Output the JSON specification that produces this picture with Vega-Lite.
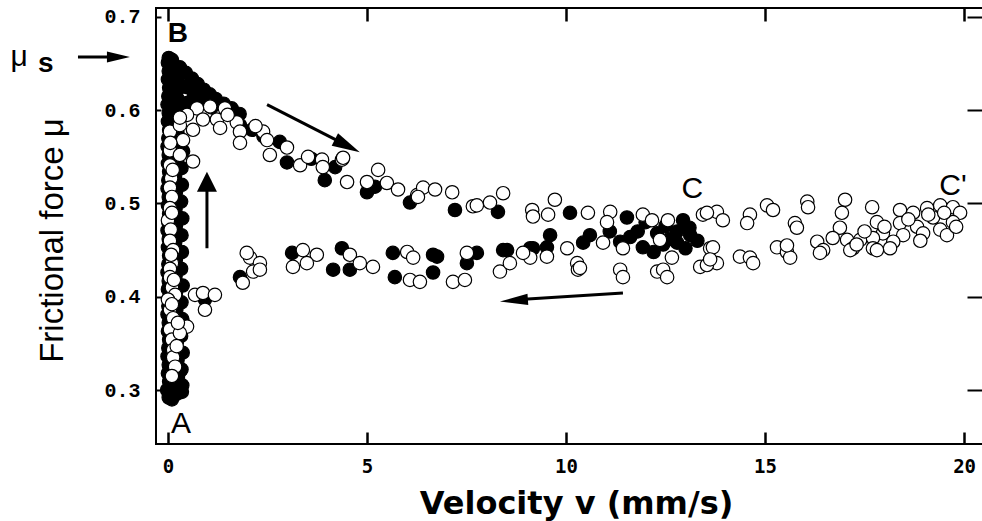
{
"$schema": "https://vega.github.io/schema/vega-lite/v6.json",
"autosize": {"type": "none"},
"width": 828, "height": 436,
"padding": {"left": 156, "top": 8, "right": 0, "bottom": 77},
"background": "white",
"config": {"view": {"stroke": "black", "strokeWidth": 2}, "font": "Liberation Sans"},
"datasets": {
"pts": [
{"x":0.02,"y":0.292,"run":"filled"},{"x":-0.02,"y":0.300,"run":"filled"},{"x":0.03,"y":0.309,"run":"filled"},{"x":0.0,"y":0.318,"run":"filled"},{"x":0.02,"y":0.327,"run":"filled"},{"x":-0.01,"y":0.336,"run":"filled"},{"x":0.01,"y":0.345,"run":"filled"},{"x":0.03,"y":0.354,"run":"filled"},{"x":0.0,"y":0.363,"run":"filled"},{"x":0.02,"y":0.372,"run":"filled"},{"x":-0.01,"y":0.381,"run":"filled"},{"x":0.01,"y":0.390,"run":"filled"},{"x":0.03,"y":0.399,"run":"filled"},{"x":0.0,"y":0.408,"run":"filled"},{"x":0.02,"y":0.417,"run":"filled"},{"x":-0.01,"y":0.426,"run":"filled"},{"x":0.01,"y":0.435,"run":"filled"},{"x":0.03,"y":0.444,"run":"filled"},{"x":0.0,"y":0.453,"run":"filled"},{"x":0.02,"y":0.462,"run":"filled"},{"x":-0.01,"y":0.471,"run":"filled"},{"x":0.01,"y":0.480,"run":"filled"},{"x":0.03,"y":0.489,"run":"filled"},{"x":0.0,"y":0.498,"run":"filled"},{"x":0.02,"y":0.507,"run":"filled"},{"x":-0.01,"y":0.516,"run":"filled"},{"x":0.01,"y":0.525,"run":"filled"},{"x":0.03,"y":0.534,"run":"filled"},{"x":0.0,"y":0.543,"run":"filled"},{"x":0.02,"y":0.552,"run":"filled"},{"x":-0.01,"y":0.561,"run":"filled"},{"x":0.01,"y":0.570,"run":"filled"},{"x":0.03,"y":0.579,"run":"filled"},{"x":0.0,"y":0.588,"run":"filled"},{"x":0.02,"y":0.597,"run":"filled"},{"x":-0.01,"y":0.606,"run":"filled"},{"x":0.01,"y":0.615,"run":"filled"},{"x":0.03,"y":0.624,"run":"filled"},{"x":0.0,"y":0.633,"run":"filled"},{"x":0.02,"y":0.642,"run":"filled"},{"x":0.0,"y":0.651,"run":"filled"},{"x":0.02,"y":0.656,"run":"filled"},
{"x":0.22,"y":0.296,"run":"filled"},{"x":0.18,"y":0.305,"run":"filled"},{"x":0.25,"y":0.314,"run":"filled"},{"x":0.2,"y":0.323,"run":"filled"},{"x":0.24,"y":0.332,"run":"filled"},{"x":0.19,"y":0.341,"run":"filled"},{"x":0.22,"y":0.350,"run":"filled"},{"x":0.2,"y":0.359,"run":"filled"},{"x":0.23,"y":0.368,"run":"filled"},{"x":0.18,"y":0.377,"run":"filled"},{"x":0.21,"y":0.386,"run":"filled"},{"x":0.24,"y":0.395,"run":"filled"},{"x":0.2,"y":0.404,"run":"filled"},{"x":0.22,"y":0.413,"run":"filled"},{"x":0.19,"y":0.422,"run":"filled"},{"x":0.23,"y":0.431,"run":"filled"},{"x":0.2,"y":0.440,"run":"filled"},{"x":0.22,"y":0.449,"run":"filled"},{"x":0.18,"y":0.458,"run":"filled"},{"x":0.21,"y":0.467,"run":"filled"},{"x":0.2,"y":0.476,"run":"filled"},{"x":0.23,"y":0.485,"run":"filled"},{"x":0.19,"y":0.494,"run":"filled"},{"x":0.21,"y":0.503,"run":"filled"},{"x":0.2,"y":0.512,"run":"filled"},{"x":0.22,"y":0.521,"run":"filled"},{"x":0.18,"y":0.530,"run":"filled"},{"x":0.21,"y":0.539,"run":"filled"},{"x":0.23,"y":0.548,"run":"filled"},{"x":0.2,"y":0.557,"run":"filled"},{"x":0.22,"y":0.566,"run":"filled"},{"x":0.24,"y":0.575,"run":"filled"},{"x":0.22,"y":0.584,"run":"filled"},{"x":0.25,"y":0.593,"run":"filled"},{"x":0.23,"y":0.602,"run":"filled"},{"x":0.26,"y":0.611,"run":"filled"},{"x":0.22,"y":0.620,"run":"filled"},{"x":0.25,"y":0.629,"run":"filled"},{"x":0.2,"y":0.638,"run":"filled"},{"x":0.15,"y":0.647,"run":"filled"},
{"x":0.36,"y":0.305,"run":"filled"},{"x":0.34,"y":0.322,"run":"filled"},{"x":0.37,"y":0.340,"run":"filled"},{"x":0.33,"y":0.358,"run":"filled"},{"x":0.36,"y":0.376,"run":"filled"},{"x":0.34,"y":0.394,"run":"filled"},{"x":0.37,"y":0.412,"run":"filled"},{"x":0.33,"y":0.430,"run":"filled"},{"x":0.35,"y":0.448,"run":"filled"},{"x":0.34,"y":0.466,"run":"filled"},{"x":0.36,"y":0.484,"run":"filled"},{"x":0.33,"y":0.502,"run":"filled"},{"x":0.35,"y":0.520,"run":"filled"},{"x":0.34,"y":0.538,"run":"filled"},{"x":0.38,"y":0.556,"run":"filled"},
{"x":0.35,"y":0.298,"run":"filled"},{"x":0.1,"y":0.29,"run":"filled"},{"x":0.3,"y":0.32,"run":"filled"},
{"x":0.1,"y":0.654,"run":"filled"},{"x":0.3,"y":0.646,"run":"filled"},{"x":0.45,"y":0.640,"run":"filled"},{"x":0.6,"y":0.634,"run":"filled"},{"x":0.75,"y":0.628,"run":"filled"},{"x":0.9,"y":0.622,"run":"filled"},{"x":1.05,"y":0.617,"run":"filled"},{"x":1.2,"y":0.612,"run":"filled"},{"x":1.4,"y":0.607,"run":"filled"},{"x":1.6,"y":0.602,"run":"filled"},{"x":1.8,"y":0.596,"run":"filled"},{"x":0.45,"y":0.625,"run":"filled"},{"x":0.65,"y":0.617,"run":"filled"},{"x":0.85,"y":0.610,"run":"filled"},{"x":1.1,"y":0.603,"run":"filled"},{"x":0.5,"y":0.608,"run":"filled"},{"x":1.81,"y":0.584,"run":"filled"},{"x":2.11,"y":0.579,"run":"filled"},{"x":2.4,"y":0.572,"run":"filled"},{"x":2.81,"y":0.566,"run":"filled"},
{"x":2.99,"y":0.544,"run":"filled"},{"x":3.6,"y":0.548,"run":"filled"},{"x":4.20,"y":0.539,"run":"filled"},{"x":3.94,"y":0.525,"run":"filled"},{"x":5.00,"y":0.512,"run":"filled"},{"x":5.20,"y":0.518,"run":"filled"},{"x":6.08,"y":0.501,"run":"filled"},{"x":7.21,"y":0.493,"run":"filled"},{"x":8.29,"y":0.491,"run":"filled"},{"x":10.10,"y":0.490,"run":"filled"},{"x":11.53,"y":0.485,"run":"filled"},{"x":12.94,"y":0.482,"run":"filled"},{"x":12.0,"y":0.480,"run":"filled"},{"x":12.5,"y":0.476,"run":"filled"},{"x":13.1,"y":0.474,"run":"filled"},{"x":11.8,"y":0.470,"run":"filled"},
{"x":11.61,"y":0.464,"run":"filled"},{"x":12.29,"y":0.468,"run":"filled"},{"x":12.79,"y":0.470,"run":"filled"},{"x":13.12,"y":0.466,"run":"filled"},{"x":9.60,"y":0.466,"run":"filled"},{"x":10.60,"y":0.466,"run":"filled"},{"x":11.93,"y":0.453,"run":"filled"},{"x":12.44,"y":0.456,"run":"filled"},{"x":12.79,"y":0.458,"run":"filled"},{"x":11.36,"y":0.459,"run":"filled"},{"x":10.43,"y":0.458,"run":"filled"},{"x":9.17,"y":0.452,"run":"filled"},{"x":8.52,"y":0.450,"run":"filled"},{"x":7.76,"y":0.447,"run":"filled"},{"x":12.6,"y":0.462,"run":"filled"},{"x":13.3,"y":0.46,"run":"filled"},{"x":11.1,"y":0.47,"run":"filled"},{"x":12.2,"y":0.448,"run":"filled"},{"x":13.0,"y":0.452,"run":"filled"},
{"x":3.12,"y":0.447,"run":"filled"},{"x":4.37,"y":0.452,"run":"filled"},{"x":4.15,"y":0.429,"run":"filled"},{"x":4.57,"y":0.429,"run":"filled"},{"x":5.65,"y":0.447,"run":"filled"},{"x":6.66,"y":0.445,"run":"filled"},{"x":7.51,"y":0.436,"run":"filled"},{"x":5.70,"y":0.421,"run":"filled"},{"x":6.66,"y":0.426,"run":"filled"},{"x":7.54,"y":0.445,"run":"filled"},{"x":6.76,"y":0.443,"run":"filled"},{"x":8.42,"y":0.450,"run":"filled"},{"x":9.10,"y":0.452,"run":"filled"},{"x":9.52,"y":0.453,"run":"filled"},{"x":1.81,"y":0.421,"run":"filled"},{"x":0.93,"y":0.397,"run":"filled"},
{"x":0.05,"y":0.577,"run":"open"},{"x":0.3,"y":0.584,"run":"open"},{"x":0.38,"y":0.568,"run":"open"},{"x":0.05,"y":0.557,"run":"open"},{"x":0.3,"y":0.552,"run":"open"},{"x":0.63,"y":0.545,"run":"open"},{"x":0.05,"y":0.541,"run":"open"},{"x":0.08,"y":0.527,"run":"open"},{"x":0.05,"y":0.517,"run":"open"},{"x":0.1,"y":0.507,"run":"open"},{"x":0.05,"y":0.495,"run":"open"},{"x":0.0,"y":0.482,"run":"open"},{"x":0.07,"y":0.472,"run":"open"},{"x":0.05,"y":0.46,"run":"open"},{"x":0.13,"y":0.450,"run":"open"},{"x":0.1,"y":0.436,"run":"open"},{"x":0.05,"y":0.43,"run":"open"},{"x":0.05,"y":0.421,"run":"open"},{"x":0.1,"y":0.41,"run":"open"},{"x":0.18,"y":0.402,"run":"open"},{"x":0.0,"y":0.397,"run":"open"},{"x":0.05,"y":0.386,"run":"open"},{"x":0.13,"y":0.377,"run":"open"},{"x":0.38,"y":0.368,"run":"open"},{"x":0.05,"y":0.365,"run":"open"},{"x":0.1,"y":0.354,"run":"open"},{"x":0.13,"y":0.343,"run":"open"},{"x":0.13,"y":0.335,"run":"open"},{"x":0.18,"y":0.325,"run":"open"},{"x":0.48,"y":0.368,"run":"open"},{"x":0.3,"y":0.361,"run":"open"},{"x":0.1,"y":0.315,"run":"open"},{"x":0.12,"y":0.536,"run":"open"},{"x":0.1,"y":0.49,"run":"open"},{"x":0.06,"y":0.565,"run":"open"},{"x":0.08,"y":0.445,"run":"open"},{"x":0.1,"y":0.392,"run":"open"},{"x":0.22,"y":0.347,"run":"open"},{"x":0.25,"y":0.372,"run":"open"},{"x":0.15,"y":0.418,"run":"open"},
{"x":0.68,"y":0.402,"run":"open"},{"x":0.88,"y":0.404,"run":"open"},{"x":1.18,"y":0.402,"run":"open"},{"x":0.93,"y":0.386,"run":"open"},
{"x":2.06,"y":0.442,"run":"open"},{"x":2.31,"y":0.436,"run":"open"},{"x":2.14,"y":0.427,"run":"open"},{"x":1.88,"y":0.415,"run":"open"},{"x":1.98,"y":0.447,"run":"open"},
{"x":0.73,"y":0.602,"run":"open"},{"x":1.06,"y":0.604,"run":"open"},{"x":1.43,"y":0.602,"run":"open"},{"x":0.48,"y":0.595,"run":"open"},{"x":0.88,"y":0.590,"run":"open"},{"x":1.23,"y":0.590,"run":"open"},{"x":1.73,"y":0.587,"run":"open"},{"x":1.31,"y":0.581,"run":"open"},{"x":0.63,"y":0.579,"run":"open"},{"x":1.81,"y":0.577,"run":"open"},{"x":2.39,"y":0.577,"run":"open"},{"x":2.49,"y":0.568,"run":"open"},{"x":1.81,"y":0.565,"run":"open"},{"x":2.56,"y":0.552,"run":"open"},{"x":2.99,"y":0.560,"run":"open"},{"x":3.32,"y":0.541,"run":"open"},{"x":3.52,"y":0.550,"run":"open"},{"x":3.87,"y":0.547,"run":"open"},{"x":4.37,"y":0.547,"run":"open"},{"x":3.89,"y":0.539,"run":"open"},{"x":4.50,"y":0.523,"run":"open"},{"x":5.28,"y":0.536,"run":"open"},{"x":5.00,"y":0.523,"run":"open"},{"x":5.50,"y":0.522,"run":"open"},{"x":5.78,"y":0.515,"run":"open"},{"x":6.26,"y":0.509,"run":"open"},{"x":6.41,"y":0.517,"run":"open"},{"x":6.71,"y":0.515,"run":"open"},{"x":7.14,"y":0.512,"run":"open"},{"x":7.66,"y":0.497,"run":"open"},{"x":4.40,"y":0.549,"run":"open"},{"x":6.28,"y":0.507,"run":"open"},{"x":7.76,"y":0.498,"run":"open"},{"x":8.09,"y":0.501,"run":"open"},{"x":8.42,"y":0.511,"run":"open"},{"x":9.72,"y":0.504,"run":"open"},{"x":9.15,"y":0.493,"run":"open"},{"x":9.55,"y":0.488,"run":"open"},{"x":9.17,"y":0.486,"run":"open"},{"x":10.55,"y":0.490,"run":"open"},{"x":11.11,"y":0.491,"run":"open"},{"x":11.03,"y":0.480,"run":"open"},{"x":11.93,"y":0.488,"run":"open"},{"x":12.16,"y":0.482,"run":"open"},{"x":12.56,"y":0.482,"run":"open"},{"x":13.44,"y":0.488,"run":"open"},{"x":13.79,"y":0.491,"run":"open"},{"x":0.3,"y":0.592,"run":"open"},{"x":1.5,"y":0.595,"run":"open"},{"x":2.2,"y":0.583,"run":"open"},
{"x":3.39,"y":0.450,"run":"open"},{"x":3.74,"y":0.445,"run":"open"},{"x":3.14,"y":0.432,"run":"open"},{"x":3.49,"y":0.436,"run":"open"},{"x":4.57,"y":0.445,"run":"open"},{"x":4.82,"y":0.436,"run":"open"},{"x":5.15,"y":0.432,"run":"open"},{"x":6.01,"y":0.448,"run":"open"},{"x":6.16,"y":0.442,"run":"open"},{"x":6.08,"y":0.418,"run":"open"},{"x":6.33,"y":0.416,"run":"open"},{"x":7.16,"y":0.416,"run":"open"},{"x":7.46,"y":0.418,"run":"open"},{"x":7.51,"y":0.447,"run":"open"},{"x":2.31,"y":0.429,"run":"open"},{"x":8.34,"y":0.427,"run":"open"},{"x":8.59,"y":0.436,"run":"open"},{"x":9.10,"y":0.442,"run":"open"},{"x":9.52,"y":0.443,"run":"open"},{"x":10.28,"y":0.436,"run":"open"},{"x":10.30,"y":0.429,"run":"open"},{"x":11.36,"y":0.429,"run":"open"},{"x":11.43,"y":0.421,"run":"open"},{"x":12.29,"y":0.427,"run":"open"},{"x":10.93,"y":0.458,"run":"open"},{"x":11.43,"y":0.452,"run":"open"},{"x":12.36,"y":0.461,"run":"open"},{"x":10.03,"y":0.452,"run":"open"},{"x":8.92,"y":0.447,"run":"open"},{"x":10.35,"y":0.431,"run":"open"},{"x":12.44,"y":0.429,"run":"open"},{"x":12.54,"y":0.421,"run":"open"},{"x":12.66,"y":0.442,"run":"open"},{"x":13.62,"y":0.452,"run":"open"},{"x":13.37,"y":0.432,"run":"open"},{"x":13.79,"y":0.436,"run":"open"},
{"x":13.54,"y":0.490,"run":"open"},{"x":13.94,"y":0.482,"run":"open"},{"x":14.62,"y":0.488,"run":"open"},{"x":15.05,"y":0.498,"run":"open"},{"x":15.20,"y":0.493,"run":"open"},{"x":14.55,"y":0.479,"run":"open"},{"x":16.06,"y":0.502,"run":"open"},{"x":16.08,"y":0.496,"run":"open"},{"x":17.01,"y":0.504,"run":"open"},{"x":16.93,"y":0.490,"run":"open"},{"x":17.69,"y":0.496,"run":"open"},{"x":15.75,"y":0.479,"run":"open"},{"x":15.80,"y":0.474,"run":"open"},{"x":16.88,"y":0.474,"run":"open"},{"x":17.81,"y":0.480,"run":"open"},{"x":18.39,"y":0.493,"run":"open"},{"x":18.72,"y":0.490,"run":"open"},{"x":19.07,"y":0.495,"run":"open"},{"x":19.40,"y":0.498,"run":"open"},{"x":19.72,"y":0.496,"run":"open"},{"x":19.90,"y":0.490,"run":"open"},{"x":19.22,"y":0.485,"run":"open"},{"x":19.72,"y":0.480,"run":"open"},{"x":18.39,"y":0.479,"run":"open"},{"x":18.82,"y":0.475,"run":"open"},{"x":19.40,"y":0.472,"run":"open"},{"x":17.96,"y":0.468,"run":"open"},{"x":18.47,"y":0.466,"run":"open"},{"x":18.97,"y":0.468,"run":"open"},{"x":19.57,"y":0.466,"run":"open"},{"x":17.06,"y":0.461,"run":"open"},{"x":17.39,"y":0.461,"run":"open"},{"x":17.71,"y":0.463,"run":"open"},{"x":18.22,"y":0.459,"run":"open"},{"x":17.21,"y":0.452,"run":"open"},{"x":17.71,"y":0.452,"run":"open"},{"x":18.14,"y":0.452,"run":"open"},{"x":16.31,"y":0.459,"run":"open"},{"x":16.46,"y":0.450,"run":"open"},{"x":16.38,"y":0.447,"run":"open"},{"x":15.30,"y":0.453,"run":"open"},{"x":15.55,"y":0.448,"run":"open"},{"x":15.63,"y":0.442,"run":"open"},{"x":13.69,"y":0.453,"run":"open"},{"x":13.54,"y":0.434,"run":"open"},{"x":14.37,"y":0.443,"run":"open"},{"x":14.62,"y":0.442,"run":"open"},{"x":14.70,"y":0.436,"run":"open"},{"x":13.62,"y":0.440,"run":"open"},{"x":17.14,"y":0.450,"run":"open"},{"x":17.81,"y":0.450,"run":"open"},{"x":19.1,"y":0.488,"run":"open"},{"x":18.6,"y":0.483,"run":"open"},{"x":19.5,"y":0.49,"run":"open"},{"x":19.8,"y":0.475,"run":"open"},{"x":18.9,"y":0.46,"run":"open"},{"x":18.0,"y":0.475,"run":"open"},{"x":17.5,"y":0.47,"run":"open"},{"x":16.7,"y":0.463,"run":"open"},{"x":17.3,"y":0.456,"run":"open"},{"x":15.55,"y":0.455,"run":"open"}
],
"shafts": [
{"x":-2.26,"y":0.657,"x2":-1.46,"y2":0.657},
{"x":0.98,"y":0.452,"x2":0.98,"y2":0.52},
{"x":2.49,"y":0.606,"x2":4.32,"y2":0.566},
{"x":11.43,"y":0.404,"x2":8.84,"y2":0.397}
],
"labelsNormal": [
{"x":0.33,"y":0.264,"label":"A"},
{"x":13.17,"y":0.516,"label":"C"},
{"x":19.72,"y":0.519,"label":"C'"}
],
"labelsBold": [
{"x":0.25,"y":0.682,"label":"B"},
{"x":-3.07,"y":0.650,"label":"s"}
],
"labelsMu": [
{"x":-3.74,"y":0.657,"label":"μ"}
]
},
"layer": [
{
"data": {"name": "pts"},
"mark": {"type": "point", "shape": "circle", "size": 180, "filled": true, "stroke": "black", "strokeWidth": 1.2, "opacity": 1},
"encoding": {
"x": {"field": "x", "type": "quantitative", "scale": {"domain": [-0.3, 20.5], "nice": false, "zero": false},
"axis": {"orient": "bottom", "values": [0, 5, 10, 15, 20], "format": "d", "domain": false, "grid": false, "tickSize": -12, "tickWidth": 2.5, "tickColor": "black", "labelFont": "DejaVu Sans Mono", "labelFontWeight": "bold", "labelFontSize": 19, "labelColor": "black", "labelPadding": 25, "labelFlush": false, "title": "Velocity v (mm/s)", "titleFont": "DejaVu Sans", "titleFontSize": 32, "titleFontWeight": "bold", "titleColor": "black", "titleX": 420, "titleY": 69, "titleBaseline": "alphabetic", "titleAlign": "center"}},
"y": {"field": "y", "type": "quantitative", "scale": {"domain": [0.2421, 0.7096], "nice": false, "zero": false},
"axis": {"orient": "left", "values": [0.3, 0.4, 0.5, 0.6, 0.7], "format": ".1f", "domain": false, "grid": false, "tickSize": -5, "tickWidth": 2, "tickColor": "black", "labelFont": "Liberation Mono", "labelFontWeight": "bold", "labelFontSize": 20, "labelColor": "black", "labelPadding": 21, "labelFlush": false, "title": "Frictional force μ", "titleFont": "Liberation Sans", "titleFontSize": 33, "titleFontWeight": "normal", "titleColor": "black", "titleX": -94, "titleY": 232, "titleAngle": 270, "titleBaseline": "alphabetic", "titleAlign": "center"}},
"fill": {"field": "run", "type": "nominal", "scale": {"domain": ["filled", "open"], "range": ["black", "white"]}, "legend": null}
}
},
{
"data": {"name": "shafts"},
"mark": {"type": "rule", "color": "black", "strokeWidth": 3},
"encoding": {
"x": {"field": "x", "type": "quantitative", "scale": {"domain": [-0.3, 20.5], "nice": false, "zero": false}, "axis": null},
"y": {"field": "y", "type": "quantitative", "scale": {"domain": [0.2421, 0.7096], "nice": false, "zero": false}, "axis": null},
"x2": {"field": "x2"},
"y2": {"field": "y2"}
}
},
{
"data": {"values": [{"x": -0.955, "y": 0.657}]},
"mark": {"type": "point", "shape": "M0,0L-2,-0.48L-2,0.48Z", "size": 529, "filled": true, "color": "black", "opacity": 1, "angle": 0},
"encoding": {
"x": {"field": "x", "type": "quantitative", "scale": {"domain": [-0.3, 20.5], "nice": false, "zero": false}, "axis": null},
"y": {"field": "y", "type": "quantitative", "scale": {"domain": [0.2421, 0.7096], "nice": false, "zero": false}, "axis": null}
}
},
{
"data": {"values": [{"x": 0.98, "y": 0.534}]},
"mark": {"type": "point", "shape": "M0,0L-2,-1L-2,1Z", "size": 400, "filled": true, "color": "black", "opacity": 1, "angle": 270},
"encoding": {
"x": {"field": "x", "type": "quantitative", "scale": {"domain": [-0.3, 20.5], "nice": false, "zero": false}, "axis": null},
"y": {"field": "y", "type": "quantitative", "scale": {"domain": [0.2421, 0.7096], "nice": false, "zero": false}, "axis": null}
}
},
{
"data": {"values": [{"x": 4.82, "y": 0.555}]},
"mark": {"type": "point", "shape": "M0,0L-2,-0.5L-2,0.5Z", "size": 784, "filled": true, "color": "black", "opacity": 1, "angle": 27},
"encoding": {
"x": {"field": "x", "type": "quantitative", "scale": {"domain": [-0.3, 20.5], "nice": false, "zero": false}, "axis": null},
"y": {"field": "y", "type": "quantitative", "scale": {"domain": [0.2421, 0.7096], "nice": false, "zero": false}, "axis": null}
}
},
{
"data": {"values": [{"x": 8.34, "y": 0.395}]},
"mark": {"type": "point", "shape": "M0,0L-2,-0.4L-2,0.4Z", "size": 784, "filled": true, "color": "black", "opacity": 1, "angle": 176},
"encoding": {
"x": {"field": "x", "type": "quantitative", "scale": {"domain": [-0.3, 20.5], "nice": false, "zero": false}, "axis": null},
"y": {"field": "y", "type": "quantitative", "scale": {"domain": [0.2421, 0.7096], "nice": false, "zero": false}, "axis": null}
}
},
{
"data": {"name": "labelsNormal"},
"mark": {"type": "text", "font": "Liberation Sans", "fontSize": 30, "color": "black", "align": "center", "baseline": "middle"},
"encoding": {
"x": {"field": "x", "type": "quantitative", "scale": {"domain": [-0.3, 20.5], "nice": false, "zero": false},
"axis": {"orient": "top", "values": [0, 5, 10, 15, 20], "domain": false, "grid": false, "labels": false, "tickSize": -13, "tickWidth": 2.5, "tickColor": "black", "title": null}},
"y": {"field": "y", "type": "quantitative", "scale": {"domain": [0.2421, 0.7096], "nice": false, "zero": false},
"axis": {"orient": "right", "values": [0.3, 0.4, 0.5, 0.6, 0.7], "domain": false, "grid": false, "labels": false, "tickSize": -17, "tickWidth": 2, "tickColor": "black", "title": null}},
"text": {"field": "label", "type": "nominal"}
}
},
{
"data": {"name": "labelsBold"},
"mark": {"type": "text", "font": "Liberation Sans", "fontSize": 28, "fontWeight": "bold", "color": "black", "align": "center", "baseline": "middle"},
"encoding": {
"x": {"field": "x", "type": "quantitative", "scale": {"domain": [-0.3, 20.5], "nice": false, "zero": false}, "axis": null},
"y": {"field": "y", "type": "quantitative", "scale": {"domain": [0.2421, 0.7096], "nice": false, "zero": false}, "axis": null},
"text": {"field": "label", "type": "nominal"}
}
},
{
"data": {"name": "labelsMu"},
"mark": {"type": "text", "font": "Liberation Sans", "fontSize": 30, "color": "black", "align": "center", "baseline": "middle"},
"encoding": {
"x": {"field": "x", "type": "quantitative", "scale": {"domain": [-0.3, 20.5], "nice": false, "zero": false}, "axis": null},
"y": {"field": "y", "type": "quantitative", "scale": {"domain": [0.2421, 0.7096], "nice": false, "zero": false}, "axis": null},
"text": {"field": "label", "type": "nominal"}
}
}
],
"resolve": {"axis": {"x": "independent", "y": "independent"}}
}
